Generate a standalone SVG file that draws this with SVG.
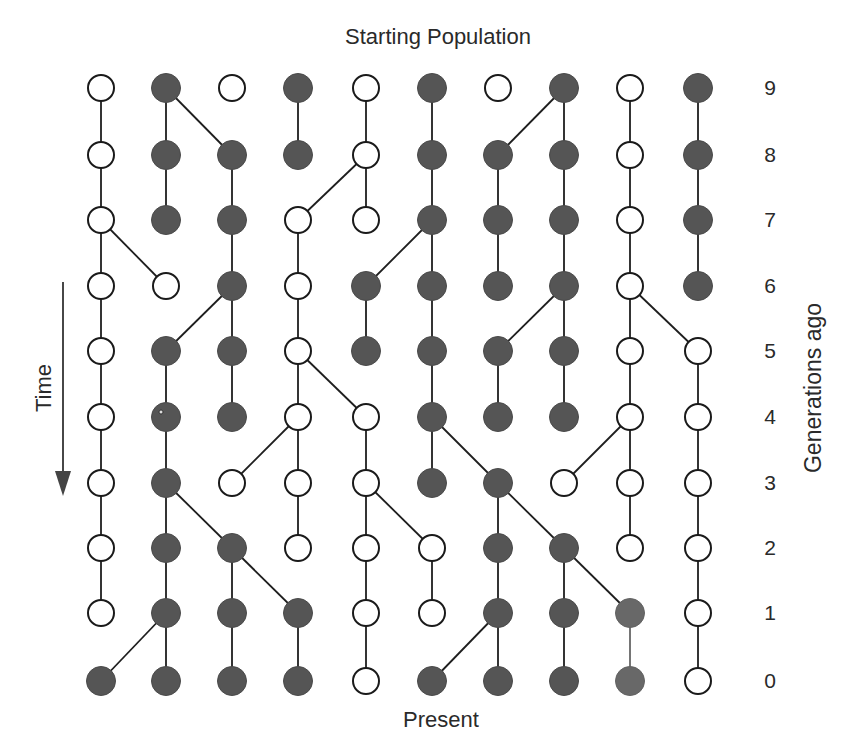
<svg xmlns="http://www.w3.org/2000/svg" width="857" height="740" viewBox="0 0 857 740">
<style>
.o{fill:#fff;stroke:#1a1a1a;stroke-width:2}
.f{fill:#555;stroke:#4a4a4a;stroke-width:1}
.fl{fill:#686868;stroke:#626262;stroke-width:1}
.e{stroke:#1e1e1e;stroke-width:1.8;fill:none}
.el{stroke:#666;stroke-width:1.8;fill:none}
.t{font-family:"Liberation Sans",Arial,sans-serif;font-size:22px;fill:#2a2a2a}
.n{font-family:"Liberation Sans",Arial,sans-serif;font-size:21px;fill:#2a2a2a;text-anchor:middle}
</style>
<rect width="857" height="740" fill="#fff"/>
<text class="t" x="438" y="44" text-anchor="middle">Starting Population</text>
<text class="t" x="441" y="727" text-anchor="middle">Present</text>
<text class="t" transform="translate(51,388) rotate(-90)" text-anchor="middle">Time</text>
<text class="t" transform="translate(821,388) rotate(-90)" text-anchor="middle" style="font-size:23px">Generations ago</text>
<g id="time-arrow">
<line x1="63" y1="282" x2="63" y2="478" stroke="#333" stroke-width="1.8"/>
<polygon points="55,471 71,471 63,496" fill="#444"/>
</g>
<g id="axis-labels">
<text class="n" x="770" y="95">9</text>
<text class="n" x="770" y="162">8</text>
<text class="n" x="770" y="227">7</text>
<text class="n" x="770" y="293">6</text>
<text class="n" x="770" y="358">5</text>
<text class="n" x="770" y="424">4</text>
<text class="n" x="770" y="490">3</text>
<text class="n" x="770" y="555">2</text>
<text class="n" x="770" y="620">1</text>
<text class="n" x="770" y="688">0</text>
</g>
<g id="connectors">
<!-- 9 to 8 -->
<line class="e" x1="101" y1="88" x2="101" y2="155"/>
<line class="e" x1="166" y1="88" x2="166" y2="155"/>
<line class="e" x1="166" y1="88" x2="232" y2="155"/>
<line class="e" x1="298" y1="88" x2="298" y2="155"/>
<line class="e" x1="366" y1="88" x2="366" y2="155"/>
<line class="e" x1="432" y1="88" x2="432" y2="155"/>
<line class="e" x1="564" y1="88" x2="498" y2="155"/>
<line class="e" x1="564" y1="88" x2="564" y2="155"/>
<line class="e" x1="630" y1="88" x2="630" y2="155"/>
<line class="e" x1="698" y1="88" x2="698" y2="155"/>
<!-- 8 to 7 -->
<line class="e" x1="101" y1="155" x2="101" y2="220"/>
<line class="e" x1="166" y1="155" x2="166" y2="220"/>
<line class="e" x1="232" y1="155" x2="232" y2="220"/>
<line class="e" x1="366" y1="155" x2="298" y2="220"/>
<line class="e" x1="366" y1="155" x2="366" y2="220"/>
<line class="e" x1="432" y1="155" x2="432" y2="220"/>
<line class="e" x1="498" y1="155" x2="498" y2="220"/>
<line class="e" x1="564" y1="155" x2="564" y2="220"/>
<line class="e" x1="630" y1="155" x2="630" y2="220"/>
<line class="e" x1="698" y1="155" x2="698" y2="220"/>
<!-- 7 to 6 -->
<line class="e" x1="101" y1="220" x2="101" y2="286"/>
<line class="e" x1="101" y1="220" x2="166" y2="286"/>
<line class="e" x1="232" y1="220" x2="232" y2="286"/>
<line class="e" x1="298" y1="220" x2="298" y2="286"/>
<line class="e" x1="432" y1="220" x2="366" y2="286"/>
<line class="e" x1="432" y1="220" x2="432" y2="286"/>
<line class="e" x1="498" y1="220" x2="498" y2="286"/>
<line class="e" x1="564" y1="220" x2="564" y2="286"/>
<line class="e" x1="630" y1="220" x2="630" y2="286"/>
<line class="e" x1="698" y1="220" x2="698" y2="286"/>
<!-- 6 to 5 -->
<line class="e" x1="101" y1="286" x2="101" y2="351"/>
<line class="e" x1="232" y1="286" x2="166" y2="351"/>
<line class="e" x1="232" y1="286" x2="232" y2="351"/>
<line class="e" x1="298" y1="286" x2="298" y2="351"/>
<line class="e" x1="366" y1="286" x2="366" y2="351"/>
<line class="e" x1="432" y1="286" x2="432" y2="351"/>
<line class="e" x1="564" y1="286" x2="498" y2="351"/>
<line class="e" x1="564" y1="286" x2="564" y2="351"/>
<line class="e" x1="630" y1="286" x2="630" y2="351"/>
<line class="e" x1="630" y1="286" x2="698" y2="351"/>
<!-- 5 to 4 -->
<line class="e" x1="101" y1="351" x2="101" y2="417"/>
<line class="e" x1="166" y1="351" x2="166" y2="417"/>
<line class="e" x1="232" y1="351" x2="232" y2="417"/>
<line class="e" x1="298" y1="351" x2="298" y2="417"/>
<line class="e" x1="298" y1="351" x2="366" y2="417"/>
<line class="e" x1="432" y1="351" x2="432" y2="417"/>
<line class="e" x1="498" y1="351" x2="498" y2="417"/>
<line class="e" x1="564" y1="351" x2="564" y2="417"/>
<line class="e" x1="630" y1="351" x2="630" y2="417"/>
<line class="e" x1="698" y1="351" x2="698" y2="417"/>
<!-- 4 to 3 -->
<line class="e" x1="101" y1="417" x2="101" y2="483"/>
<line class="e" x1="166" y1="417" x2="166" y2="483"/>
<line class="e" x1="298" y1="417" x2="232" y2="483"/>
<line class="e" x1="298" y1="417" x2="298" y2="483"/>
<line class="e" x1="366" y1="417" x2="366" y2="483"/>
<line class="e" x1="432" y1="417" x2="432" y2="483"/>
<line class="e" x1="432" y1="417" x2="498" y2="483"/>
<line class="e" x1="630" y1="417" x2="564" y2="483"/>
<line class="e" x1="630" y1="417" x2="630" y2="483"/>
<line class="e" x1="698" y1="417" x2="698" y2="483"/>
<!-- 3 to 2 -->
<line class="e" x1="101" y1="483" x2="101" y2="548"/>
<line class="e" x1="166" y1="483" x2="166" y2="548"/>
<line class="e" x1="166" y1="483" x2="232" y2="548"/>
<line class="e" x1="298" y1="483" x2="298" y2="548"/>
<line class="e" x1="366" y1="483" x2="366" y2="548"/>
<line class="e" x1="366" y1="483" x2="432" y2="548"/>
<line class="e" x1="498" y1="483" x2="498" y2="548"/>
<line class="e" x1="498" y1="483" x2="564" y2="548"/>
<line class="e" x1="630" y1="483" x2="630" y2="548"/>
<line class="e" x1="698" y1="483" x2="698" y2="548"/>
<!-- 2 to 1 -->
<line class="e" x1="101" y1="548" x2="101" y2="613"/>
<line class="e" x1="166" y1="548" x2="166" y2="613"/>
<line class="e" x1="232" y1="548" x2="232" y2="613"/>
<line class="e" x1="232" y1="548" x2="298" y2="613"/>
<line class="e" x1="366" y1="548" x2="366" y2="613"/>
<line class="e" x1="432" y1="548" x2="432" y2="613"/>
<line class="e" x1="498" y1="548" x2="498" y2="613"/>
<line class="e" x1="564" y1="548" x2="564" y2="613"/>
<line class="e" x1="564" y1="548" x2="630" y2="613"/>
<line class="e" x1="698" y1="548" x2="698" y2="613"/>
<!-- 1 to 0 -->
<line class="e" x1="166" y1="613" x2="101" y2="681"/>
<line class="e" x1="166" y1="613" x2="166" y2="681"/>
<line class="e" x1="232" y1="613" x2="232" y2="681"/>
<line class="e" x1="298" y1="613" x2="298" y2="681"/>
<line class="e" x1="366" y1="613" x2="366" y2="681"/>
<line class="e" x1="498" y1="613" x2="432" y2="681"/>
<line class="e" x1="498" y1="613" x2="498" y2="681"/>
<line class="e" x1="564" y1="613" x2="564" y2="681"/>
<line class="el" x1="630" y1="613" x2="630" y2="681"/>
<line class="e" x1="698" y1="613" x2="698" y2="681"/>
</g>
<!-- generation 9 -->
<g id="n9-0"><circle class="o" cx="101" cy="88" r="13"/></g>
<g id="n9-1"><circle class="f" cx="166" cy="88" r="14.5"/></g>
<g id="n9-2"><circle class="o" cx="232" cy="88" r="13"/></g>
<g id="n9-3"><circle class="f" cx="298" cy="88" r="14.5"/></g>
<g id="n9-4"><circle class="o" cx="366" cy="88" r="13"/></g>
<g id="n9-5"><circle class="f" cx="432" cy="88" r="14.5"/></g>
<g id="n9-6"><circle class="o" cx="498" cy="88" r="13"/></g>
<g id="n9-7"><circle class="f" cx="564" cy="88" r="14.5"/></g>
<g id="n9-8"><circle class="o" cx="630" cy="88" r="13"/></g>
<g id="n9-9"><circle class="f" cx="698" cy="88" r="14.5"/></g>
<!-- generation 8 -->
<g id="n8-0"><circle class="o" cx="101" cy="155" r="13"/></g>
<g id="n8-1"><circle class="f" cx="166" cy="155" r="14.5"/></g>
<g id="n8-2"><circle class="f" cx="232" cy="155" r="14.5"/></g>
<g id="n8-3"><circle class="f" cx="298" cy="155" r="14.5"/></g>
<g id="n8-4"><circle class="o" cx="366" cy="155" r="13"/></g>
<g id="n8-5"><circle class="f" cx="432" cy="155" r="14.5"/></g>
<g id="n8-6"><circle class="f" cx="498" cy="155" r="14.5"/></g>
<g id="n8-7"><circle class="f" cx="564" cy="155" r="14.5"/></g>
<g id="n8-8"><circle class="o" cx="630" cy="155" r="13"/></g>
<g id="n8-9"><circle class="f" cx="698" cy="155" r="14.5"/></g>
<!-- generation 7 -->
<g id="n7-0"><circle class="o" cx="101" cy="220" r="13"/></g>
<g id="n7-1"><circle class="f" cx="166" cy="220" r="14.5"/></g>
<g id="n7-2"><circle class="f" cx="232" cy="220" r="14.5"/></g>
<g id="n7-3"><circle class="o" cx="298" cy="220" r="13"/></g>
<g id="n7-4"><circle class="o" cx="366" cy="220" r="13"/></g>
<g id="n7-5"><circle class="f" cx="432" cy="220" r="14.5"/></g>
<g id="n7-6"><circle class="f" cx="498" cy="220" r="14.5"/></g>
<g id="n7-7"><circle class="f" cx="564" cy="220" r="14.5"/></g>
<g id="n7-8"><circle class="o" cx="630" cy="220" r="13"/></g>
<g id="n7-9"><circle class="f" cx="698" cy="220" r="14.5"/></g>
<!-- generation 6 -->
<g id="n6-0"><circle class="o" cx="101" cy="286" r="13"/></g>
<g id="n6-1"><circle class="o" cx="166" cy="286" r="13"/></g>
<g id="n6-2"><circle class="f" cx="232" cy="286" r="14.5"/></g>
<g id="n6-3"><circle class="o" cx="298" cy="286" r="13"/></g>
<g id="n6-4"><circle class="f" cx="366" cy="286" r="14.5"/></g>
<g id="n6-5"><circle class="f" cx="432" cy="286" r="14.5"/></g>
<g id="n6-6"><circle class="f" cx="498" cy="286" r="14.5"/></g>
<g id="n6-7"><circle class="f" cx="564" cy="286" r="14.5"/></g>
<g id="n6-8"><circle class="o" cx="630" cy="286" r="13"/></g>
<g id="n6-9"><circle class="f" cx="698" cy="286" r="14.5"/></g>
<!-- generation 5 -->
<g id="n5-0"><circle class="o" cx="101" cy="351" r="13"/></g>
<g id="n5-1"><circle class="f" cx="166" cy="351" r="14.5"/></g>
<g id="n5-2"><circle class="f" cx="232" cy="351" r="14.5"/></g>
<g id="n5-3"><circle class="o" cx="298" cy="351" r="13"/></g>
<g id="n5-4"><circle class="f" cx="366" cy="351" r="14.5"/></g>
<g id="n5-5"><circle class="f" cx="432" cy="351" r="14.5"/></g>
<g id="n5-6"><circle class="f" cx="498" cy="351" r="14.5"/></g>
<g id="n5-7"><circle class="f" cx="564" cy="351" r="14.5"/></g>
<g id="n5-8"><circle class="o" cx="630" cy="351" r="13"/></g>
<g id="n5-9"><circle class="o" cx="698" cy="351" r="13"/></g>
<!-- generation 4 -->
<g id="n4-0"><circle class="o" cx="101" cy="417" r="13"/></g>
<g id="n4-1"><circle class="f" cx="166" cy="417" r="14.5"/><circle cx="161" cy="412" r="2" fill="#ddd" stroke="#222" stroke-width="0.8"/></g>
<g id="n4-2"><circle class="f" cx="232" cy="417" r="14.5"/></g>
<g id="n4-3"><circle class="o" cx="298" cy="417" r="13"/></g>
<g id="n4-4"><circle class="o" cx="366" cy="417" r="13"/></g>
<g id="n4-5"><circle class="f" cx="432" cy="417" r="14.5"/></g>
<g id="n4-6"><circle class="f" cx="498" cy="417" r="14.5"/></g>
<g id="n4-7"><circle class="f" cx="564" cy="417" r="14.5"/></g>
<g id="n4-8"><circle class="o" cx="630" cy="417" r="13"/></g>
<g id="n4-9"><circle class="o" cx="698" cy="417" r="13"/></g>
<!-- generation 3 -->
<g id="n3-0"><circle class="o" cx="101" cy="483" r="13"/></g>
<g id="n3-1"><circle class="f" cx="166" cy="483" r="14.5"/></g>
<g id="n3-2"><circle class="o" cx="232" cy="483" r="13"/></g>
<g id="n3-3"><circle class="o" cx="298" cy="483" r="13"/></g>
<g id="n3-4"><circle class="o" cx="366" cy="483" r="13"/></g>
<g id="n3-5"><circle class="f" cx="432" cy="483" r="14.5"/></g>
<g id="n3-6"><circle class="f" cx="498" cy="483" r="14.5"/></g>
<g id="n3-7"><circle class="o" cx="564" cy="483" r="13"/></g>
<g id="n3-8"><circle class="o" cx="630" cy="483" r="13"/></g>
<g id="n3-9"><circle class="o" cx="698" cy="483" r="13"/></g>
<!-- generation 2 -->
<g id="n2-0"><circle class="o" cx="101" cy="548" r="13"/></g>
<g id="n2-1"><circle class="f" cx="166" cy="548" r="14.5"/></g>
<g id="n2-2"><circle class="f" cx="232" cy="548" r="14.5"/></g>
<g id="n2-3"><circle class="o" cx="298" cy="548" r="13"/></g>
<g id="n2-4"><circle class="o" cx="366" cy="548" r="13"/></g>
<g id="n2-5"><circle class="o" cx="432" cy="548" r="13"/></g>
<g id="n2-6"><circle class="f" cx="498" cy="548" r="14.5"/></g>
<g id="n2-7"><circle class="f" cx="564" cy="548" r="14.5"/></g>
<g id="n2-8"><circle class="o" cx="630" cy="548" r="13"/></g>
<g id="n2-9"><circle class="o" cx="698" cy="548" r="13"/></g>
<!-- generation 1 -->
<g id="n1-0"><circle class="o" cx="101" cy="613" r="13"/></g>
<g id="n1-1"><circle class="f" cx="166" cy="613" r="14.5"/></g>
<g id="n1-2"><circle class="f" cx="232" cy="613" r="14.5"/></g>
<g id="n1-3"><circle class="f" cx="298" cy="613" r="14.5"/></g>
<g id="n1-4"><circle class="o" cx="366" cy="613" r="13"/></g>
<g id="n1-5"><circle class="o" cx="432" cy="613" r="13"/></g>
<g id="n1-6"><circle class="f" cx="498" cy="613" r="14.5"/></g>
<g id="n1-7"><circle class="f" cx="564" cy="613" r="14.5"/></g>
<g id="n1-8"><circle class="fl" cx="630" cy="613" r="14.5"/></g>
<g id="n1-9"><circle class="o" cx="698" cy="613" r="13"/></g>
<!-- generation 0 -->
<g id="n0-0"><circle class="f" cx="101" cy="681" r="14.5"/></g>
<g id="n0-1"><circle class="f" cx="166" cy="681" r="14.5"/></g>
<g id="n0-2"><circle class="f" cx="232" cy="681" r="14.5"/></g>
<g id="n0-3"><circle class="f" cx="298" cy="681" r="14.5"/></g>
<g id="n0-4"><circle class="o" cx="366" cy="681" r="13"/></g>
<g id="n0-5"><circle class="f" cx="432" cy="681" r="14.5"/></g>
<g id="n0-6"><circle class="f" cx="498" cy="681" r="14.5"/></g>
<g id="n0-7"><circle class="f" cx="564" cy="681" r="14.5"/></g>
<g id="n0-8"><circle class="fl" cx="630" cy="681" r="14.5"/></g>
<g id="n0-9"><circle class="o" cx="698" cy="681" r="13"/></g>
</svg>
